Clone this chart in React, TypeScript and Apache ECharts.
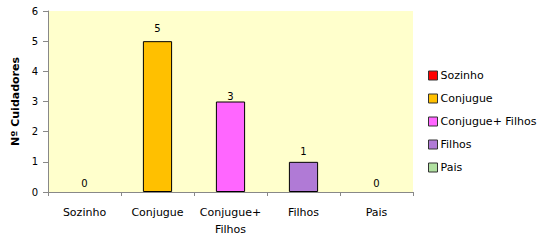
import React, { useEffect, useRef } from "react";
import * as echarts from "echarts";

const categories = ["Sozinho", "Conjugue", "Conjugue+ Filhos", "Filhos", "Pais"];
const values = [0, 5, 3, 1, 0];
const colors = ["#FF0000", "#FFC000", "#FF66FF", "#B07AD6", "#B0E0A0"];
const labelDistances = [4, 8, 0, 5, 4];
const yTicks = [0, 1, 2, 3, 4, 5, 6];

export default function App() {
  const ref = useRef<HTMLDivElement>(null);
  useEffect(() => {
    const chart = echarts.init(ref.current!, undefined, { renderer: "svg" });
    const font = "DejaVu Sans, Verdana, sans-serif";
    const series = categories.map((name, i) => ({
      name,
      type: "bar",
      barWidth: "40%",
      barGap: "-100%",
      data: categories.map((_, j) =>
        j === i
          ? { value: values[i], itemStyle: { borderWidth: values[i] === 0 ? 0 : 1 } }
          : "-"
      ),
      itemStyle: { color: colors[i], borderColor: "#000", borderWidth: 1 },
      label: {
        show: true,
        position: "top",
        distance: labelDistances[i],
        fontSize: 10,
        color: "#000",
        fontFamily: font,
      },
    }));
    chart.setOption({
      animation: false,
      backgroundColor: "#fff",
      textStyle: { fontFamily: font },
      grid: {
        left: 48,
        right: 141,
        top: 11,
        bottom: 48,
        show: true,
        backgroundColor: "#FFFFCC",
        borderWidth: 0,
      },
      legend: {
        orient: "vertical",
        left: 428,
        top: 70,
        padding: 0,
        itemWidth: 9,
        itemHeight: 9,
        itemGap: 12,
        icon: "rect",
        textStyle: { fontSize: 11, color: "#000", fontFamily: font, padding: [0, 0, 0, -2] },
        itemStyle: { borderColor: "#333", borderWidth: 1 },
        data: categories,
      },
      xAxis: {
        type: "category",
        data: categories,
        axisLine: { lineStyle: { color: "#888" } },
        axisTick: { show: true, length: 4, lineStyle: { color: "#888" }, alignWithLabel: false },
        axisLabel: {
          fontSize: 11,
          color: "#000",
          fontFamily: font,
          margin: 12,
          lineHeight: 17,
          interval: 0,
          formatter: (v: string) => v.replace("+ ", "+\n"),
        },
      },
      yAxis: {
        type: "value",
        min: yTicks[0],
        max: yTicks[yTicks.length - 1],
        interval: 1,
        name: "Nº Cuidadores",
        nameLocation: "middle",
        nameGap: 24,
        nameTextStyle: { fontSize: 11, fontWeight: "bold", color: "#000", fontFamily: font },
        axisLine: { show: true, lineStyle: { color: "#888" } },
        axisTick: { show: true, length: 5, lineStyle: { color: "#888" } },
        splitLine: { show: false },
        axisLabel: { fontSize: 10, color: "#000", fontFamily: font, margin: 10 },
      },
      series,
    });
    return () => chart.dispose();
  }, []);
  return (
    <div
      ref={ref}
      style={{ position: "fixed", left: 0, top: 0, width: 554, height: 240 }}
    />
  );
}
